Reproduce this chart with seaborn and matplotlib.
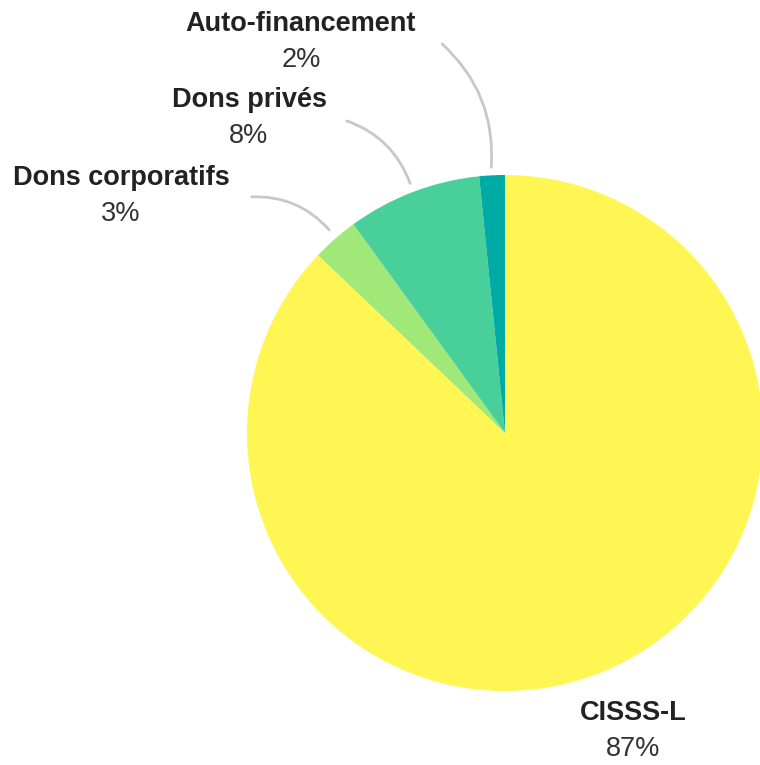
import matplotlib.pyplot as plt
import seaborn as sns

sources = ["CISSS-L", "Dons corporatifs", "Dons privés", "Auto-financement"]
shares = [87.1, 2.9, 8.4, 1.6]
colors = ["#fff653", "#a0e878", "#48cf9a", "#00aba5"]

H = 765
# label anchor (label centre x, label y) and connector (from, to) in pixels
label_pos = [(633, 713), (121, 178), (249, 100), (301, 24)]
connectors = [None, ((249, 197), (331, 232)), ((344, 120), (411, 186)), ((440, 42), (491, 170))]

sns.set_theme(style="white")
plt.rcParams["font.family"] = ["Liberation Sans", "DejaVu Sans"]

fig = plt.figure(figsize=(7.6, 7.65), dpi=100)
ax = fig.add_axes([0, 0, 1, 1])

ax.pie(shares, colors=colors, startangle=90, counterclock=False,
       center=(505, H - 433), radius=258, wedgeprops=dict(linewidth=0))

ax.set_xlim(0, 760)
ax.set_ylim(0, H)
ax.set_aspect("equal")
ax.axis("off")

total = sum(shares)
for name, v, (x, y), con in zip(sources, shares, label_pos, connectors):
    ax.text(x, H - y, name, ha="center", va="center", fontsize=19.5,
            fontweight="bold", color="#222222")
    ax.text(x, H - y - 36, f"{round(v / total * 100)}%", ha="center", va="center",
            fontsize=19.5, color="#333333")
    if con:
        (x0, y0), (x1, y1) = con
        ax.annotate("", xy=(x1, H - y1), xytext=(x0, H - y0),
                    arrowprops=dict(arrowstyle="-", color="#c8c8c8", lw=2,
                                    connectionstyle="arc3,rad=-0.25"))

fig.savefig("out.png", dpi=100)
